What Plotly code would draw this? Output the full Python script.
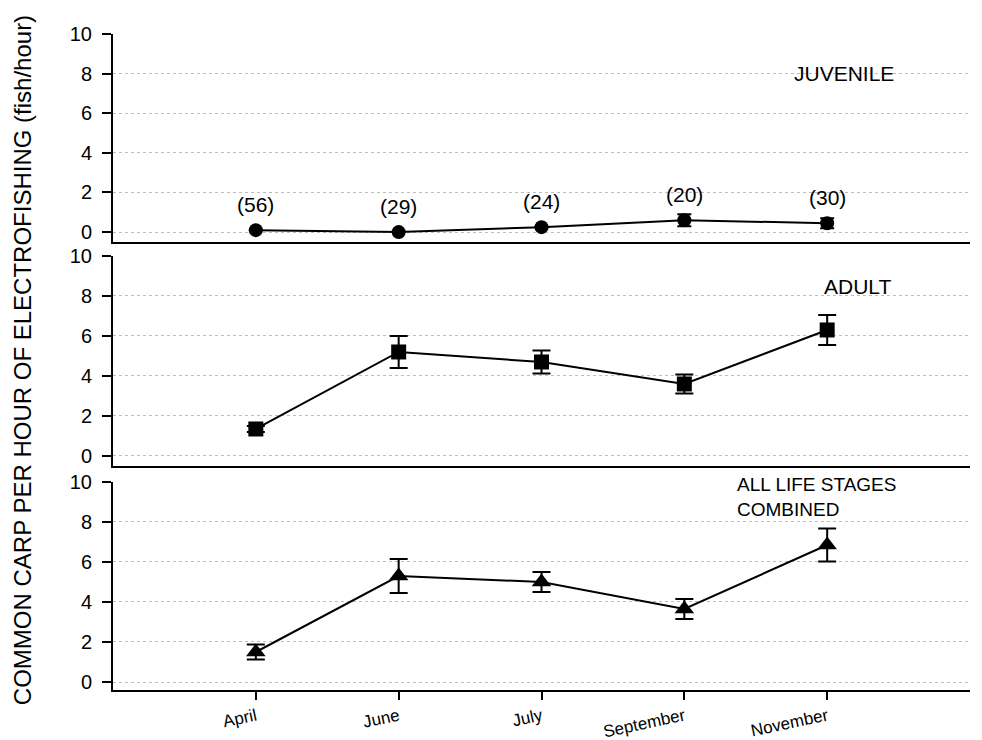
import plotly.graph_objects as go

# ---- data ----
months = ["April", "June", "July", "September", "November"]

juvenile = [0.1, 0.0, 0.25, 0.6, 0.45]
juvenile_err = [0.0, 0.0, 0.0, 0.3, 0.25]
juvenile_n = ["(56)", "(29)", "(24)", "(20)", "(30)"]

adult = [1.35, 5.2, 4.7, 3.6, 6.3]
adult_err = [0.15, 0.8, 0.57, 0.48, 0.75]

combined = [1.5, 5.3, 5.0, 3.65, 6.85]
combined_err = [0.37, 0.85, 0.5, 0.5, 0.82]

y_ticks = [0, 2, 4, 6, 8, 10]
panel_labels = ["JUVENILE", "ADULT", "ALL LIFE STAGES<br>COMBINED"]
y_title = "COMMON CARP PER HOUR OF ELECTROFISHING (fish/hour)"

FONT = "Liberation Sans, Arial, sans-serif"

fig = go.Figure()

series = [
    (juvenile, juvenile_err, "circle", 14, 7, "x", "y"),
    (adult, adult_err, "square", 15, 9, "x2", "y2"),
    (combined, combined_err, "triangle-up", 17, 9, "x3", "y3"),
]
for vals, errs, sym, size, capw, xa, ya in series:
    fig.add_trace(go.Scatter(
        x=months, y=vals, xaxis=xa, yaxis=ya,
        mode="lines+markers",
        line=dict(color="black", width=2),
        marker=dict(symbol=sym, size=size, color="black"),
        error_y=dict(type="data", array=errs, visible=True,
                     color="black", thickness=2, width=capw),
        showlegend=False, hoverinfo="skip",
    ))

# sample-size labels above juvenile points
for m, v, n in zip(months, juvenile, juvenile_n):
    fig.add_annotation(x=m, y=v, xref="x", yref="y", text=n,
                       showarrow=False, yshift=26,
                       font=dict(family=FONT, size=21, color="black"))

# panel labels
fig.add_annotation(x=0.853, y=8, xref="paper", yref="y", text=panel_labels[0],
                   showarrow=False, xanchor="center",
                   font=dict(family=FONT, size=21, color="black"))
fig.add_annotation(x=0.869, y=8.45, xref="paper", yref="y2", text=panel_labels[1],
                   showarrow=False, xanchor="center",
                   font=dict(family=FONT, size=21, color="black"))
fig.add_annotation(x=0.726, y=9.27, xref="paper", yref="y3", text=panel_labels[2],
                   showarrow=False, xanchor="left", align="left",
                   font=dict(family=FONT, size=19, color="black"))

# y title
fig.add_annotation(x=-0.106, y=0.503, xref="paper", yref="paper", text=y_title,
                   showarrow=False, textangle=-90, xanchor="center", yanchor="middle",
                   font=dict(family=FONT, size=24, color="black"))

xcommon = dict(type="category", categoryorder="array", categoryarray=months,
               range=[-1, 5], showline=True, linecolor="black", linewidth=2,
               showgrid=False, zeroline=False, automargin=False)
ycommon = dict(tickvals=y_ticks, showline=True, linecolor="black", linewidth=2,
               ticks="outside", ticklen=9, tickwidth=2, tickcolor="black",
               showgrid=True, gridcolor="#bdbdbd", griddash="dot", gridwidth=1,
               zeroline=False, automargin=False, ticklabelstandoff=6,
               tickfont=dict(family=FONT, size=20, color="black"))

fig.update_layout(
    width=982, height=740,
    margin=dict(l=113, r=12, t=34, b=50, autoexpand=False),
    paper_bgcolor="white", plot_bgcolor="white",
    font=dict(family=FONT, color="black"),
    xaxis=dict(**xcommon, anchor="y", showticklabels=False, ticks=""),
    xaxis2=dict(**xcommon, anchor="y2", showticklabels=False, ticks=""),
    xaxis3=dict(**xcommon, anchor="y3", ticks="outside", ticklen=8, tickwidth=2,
                tickcolor="black", tickangle=-12, ticklabelstandoff=0,
                tickfont=dict(family=FONT, size=17, color="black")),
    yaxis=dict(**ycommon, domain=[0.6829, 1.0], range=[-0.5, 10]),
    yaxis2=dict(**ycommon, domain=[0.3415, 0.6616], range=[-0.5, 10]),
    yaxis3=dict(**ycommon, domain=[0.0, 0.3171], range=[-0.4, 10]),
)

fig.write_html("out.html")
